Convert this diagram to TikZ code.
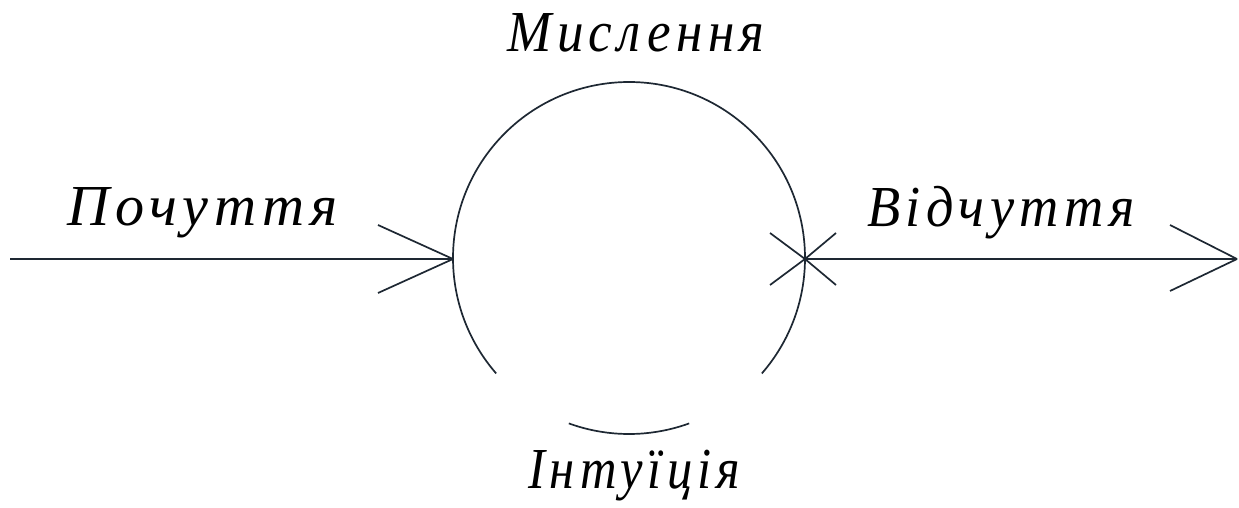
\documentclass[tikz,border=0pt]{standalone}
\usepackage{fontspec}
\usepackage{graphicx}
\setmainfont{Liberation Serif}
\newfontfamily\lblfont[LetterSpace=10]{Liberation Serif}
\definecolor{ink}{HTML}{1E2833}
\newcommand{\lblw}[2]{\resizebox{#1}{\height}{#2}}
\begin{document}
\begin{tikzpicture}[x=1pt,y=-1pt,
  ln/.style={draw=ink,line width=1.7pt},
  lbl/.style={font=\lblfont\itshape\fontsize{58}{64}\selectfont,inner sep=0pt,anchor=base,text=black}]
\useasboundingbox[fill=white] (0,0) rectangle (1239,508);
% circle geometry
\coordinate (C) at (629,258);
\coordinate (L) at (453,259);
\coordinate (R) at (805,259);
\coordinate (S) at (10,259);
\coordinate (E) at (1237,259);
% main arc
\draw[ln] (C) ++(-41:176 and -176) arc[start angle=-41,end angle=221,x radius=176,y radius=-176];
% bottom small arc
\draw[ln] (C) ++(250:176 and -176) arc[start angle=250,end angle=290,x radius=176,y radius=-176];
% lines
\draw[ln] (S) -- (L);
\draw[ln] (R) -- (E);
% arrowheads
\draw[ln] (L) -- ++(-75,-34);
\draw[ln] (L) -- ++(-75,34);
\draw[ln] (R) -- ++(-35,-26);
\draw[ln] (R) -- ++(-35,26);
\draw[ln] (R) -- ++(31,-26);
\draw[ln] (R) -- ++(31,26);
\draw[ln] (E) -- ++(-67,-34);
\draw[ln] (E) -- ++(-67,32);
% labels
\node[lbl] (m) at (636,52) {\lblw{257pt}{Мислення}};
\node[lbl] (p) at (203,225) {\lblw{270pt}{Почуття}};
\node[lbl] (v) at (1001,226) {\lblw{268pt}{Відчуття}};
\node[lbl] (i) at (634,488) {\lblw{212pt}{Інтуїція}};
\end{tikzpicture}
\end{document}
